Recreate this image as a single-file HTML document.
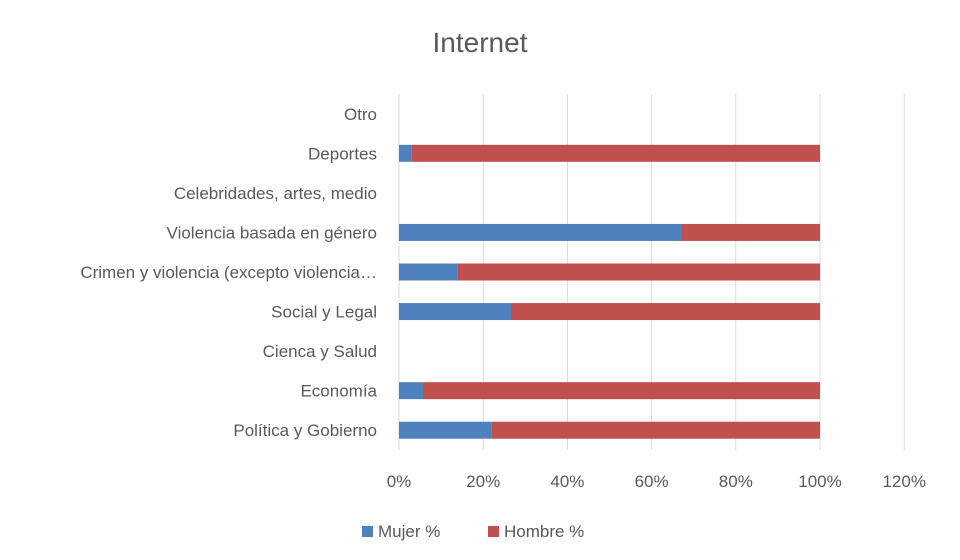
<!DOCTYPE html>
<html><head><meta charset="utf-8"><style>
body{margin:0;background:#fff;}
svg{display:block;font-family:"Liberation Sans",sans-serif;}
</style></head><body>
<svg id="chart" width="960" height="560">
<text x="480" y="52" text-anchor="middle" font-size="28" fill="#595959">Internet</text>
<g id="grid"></g><g id="bars"></g><g id="labels"></g><g id="ticks"></g>
<g>
<rect x="362" y="526" width="11" height="11" fill="#4f81bd"/>
<text x="378" y="537" font-size="17" fill="#595959">Mujer %</text>
<rect x="488" y="526" width="11" height="11" fill="#c0504d"/>
<text x="504" y="537" font-size="17" fill="#595959">Hombre %</text>
</g>
</svg>
<script>
const categories=["Otro","Deportes","Celebridades, artes, medio","Violencia basada en género","Crimen y violencia (excepto violencia…","Social y Legal","Cienca y Salud","Economía","Política y Gobierno"];
const mujer=[0,3,0,67,14,26.6,0,5.7,21.9];
const hombre=[0,97,0,33,86,73.4,0,94.3,78.1];
const tickLabels=["0%","20%","40%","60%","80%","100%","120%"];
const tickValues=[0,20,40,60,80,100,120];
const ns="http://www.w3.org/2000/svg";
const x0=399,x100=820,plotTop=94,plotBottom=450;
const xs=v=>x0+(x100-x0)*v/100;
const step=(plotBottom-plotTop)/categories.length;
const yc=i=>plotTop+step*(i+0.5);
function mk(t,a,p){const e=document.createElementNS(ns,t);for(const k in a)e.setAttribute(k,a[k]);p.appendChild(e);return e;}
const grid=document.getElementById('grid'),bars=document.getElementById('bars'),labels=document.getElementById('labels'),ticks=document.getElementById('ticks');
tickValues.forEach((v,i)=>{
 const l=mk('line',{x1:xs(v),x2:xs(v),y1:plotTop,y2:plotBottom,stroke:'#d9d9d9','stroke-width':1},grid);
 
 
 const t=mk('text',{x:xs(v),y:487,'text-anchor':'middle','font-size':17,fill:'#595959'},ticks);
 t.textContent=tickLabels[i];
 
 
});
categories.forEach((c,i)=>{
 const y=yc(i),h=17;
 const t=mk('text',{x:377,y:y+6,'text-anchor':'end','font-size':17,fill:'#595959'},labels);
 t.textContent=c;
 
 
 if(mujer[i]>0){const r=mk('rect',{x:xs(0),y:y-h/2,width:xs(mujer[i])-xs(0),height:h,fill:'#4f81bd'},bars);
 
 }
 if(hombre[i]>0){const r=mk('rect',{x:xs(mujer[i]),y:y-h/2,width:xs(mujer[i]+hombre[i])-xs(mujer[i]),height:h,fill:'#c0504d'},bars);
 
 }
});
</script>
</body></html>
